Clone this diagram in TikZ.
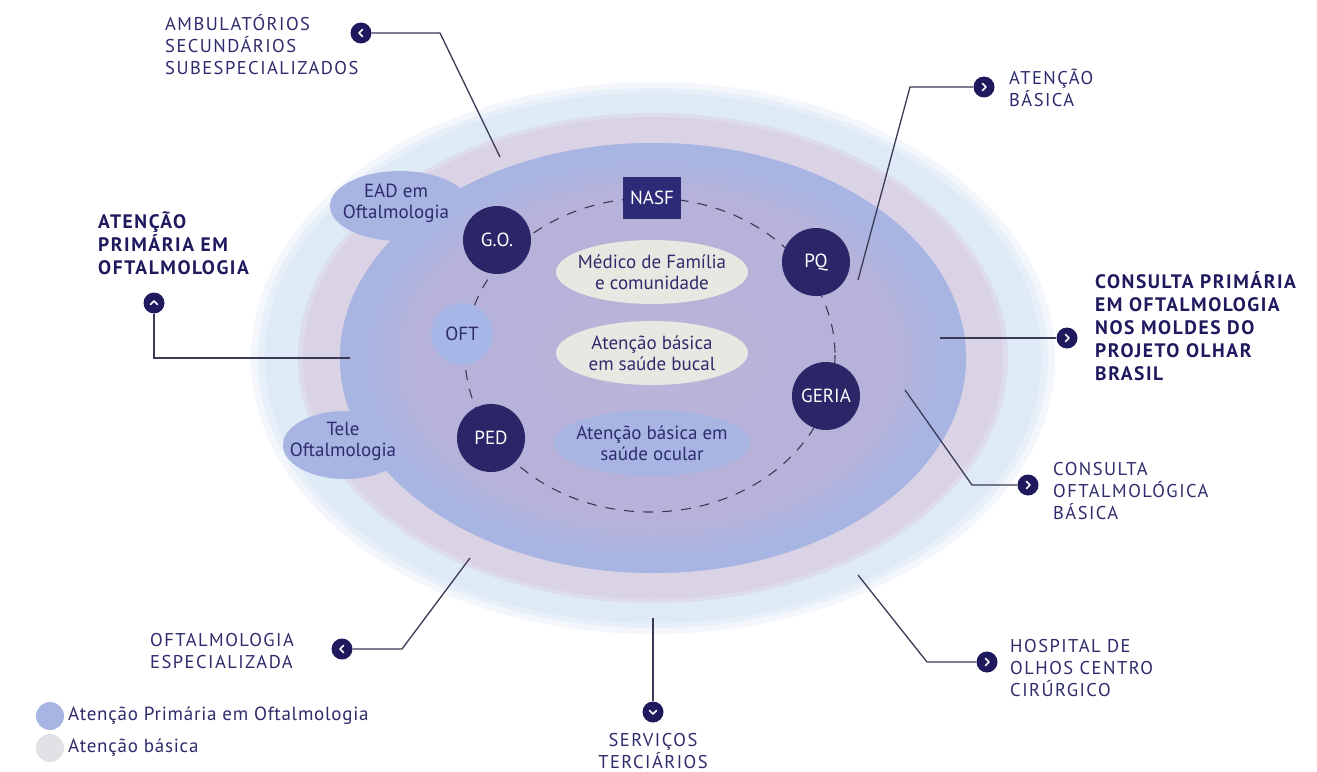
\documentclass[tikz,border=0pt]{standalone}
\usepackage{fontspec}
\setmainfont{PT Sans}
\newfontfamily\lbl[LetterSpace=8]{PT Sans}
\newfontfamily\legf[LetterSpace=4]{PT Sans}
\usetikzlibrary{shapes.geometric}
\definecolor{navy}{HTML}{1F1A5E}
\definecolor{dcirc}{HTML}{2A2668}
\definecolor{txt}{HTML}{2E2C6C}
\definecolor{linec}{HTML}{3A3A55}
\definecolor{outerblue}{HTML}{DFEAF7}
\definecolor{lav}{HTML}{DAD3E6}
\definecolor{ring}{HTML}{A8B5E3}
\definecolor{inner}{HTML}{B7B2DA}
\definecolor{innerc}{HTML}{BDB4D8}
\definecolor{cream}{HTML}{E9E7E1}
\definecolor{nasfc}{HTML}{2D2A78}
\definecolor{oftc}{HTML}{A6B6E6}
\definecolor{leggray}{HTML}{E2E1E5}
\pgfdeclareradialshading{innershade}{\pgfpoint{0bp}{0bp}}{color(0bp)=(innerc); color(12bp)=(inner); color(19bp)=(inner); color(23.5bp)=(ring); color(50bp)=(ring)}
\begin{document}
\begin{tikzpicture}[x=1pt,y=-1pt,
  lbltext/.style={text=txt, font=\lbl\fontsize{18.5}{22}\selectfont, align=left, inner sep=0pt, anchor=west},
  boldtext/.style={text=navy, font=\lbl\bfseries\fontsize{19.5}{23}\selectfont, align=left, inner sep=0pt, anchor=west},
  bullet/.style={circle, fill=navy, minimum size=21pt, inner sep=0pt},
  conn/.style={draw=linec, line width=1.3pt},
  chev/.style={draw=white, line width=1.7pt, line cap=round, line join=round},
  darkcirc/.style={circle, fill=dcirc, minimum size=68pt, inner sep=0pt, text=white, font=\fontsize{19}{19}\selectfont},
  intext/.style={text=txt, font=\fontsize{19}{21}\selectfont, align=center, inner sep=0pt},
  legdot/.style={circle, minimum size=28pt, inner sep=0pt},
  legtext/.style={text=txt, font=\legf\fontsize{19}{20}\selectfont, inner sep=0pt, anchor=west},
  chevright/.pic={\draw[chev] (-1.5,-3.5) -- (2,0) -- (-1.5,3.5);},
  chevleft/.pic={\draw[chev] (1.5,-3.5) -- (-2,0) -- (1.5,3.5);},
  chevup/.pic={\draw[chev] (-3.5,1.5) -- (0,-2) -- (3.5,1.5);},
  chevdown/.pic={\draw[chev] (-3.5,-1.5) -- (0,2) -- (3.5,-1.5);}
]
\useasboundingbox (0,0) rectangle (1317,771);
\fill[white] (0,0) rectangle (1317,771);
% layered ellipses
\fill[outerblue, opacity=0.35] (653,358) ellipse [x radius=402, y radius=276];
\fill[outerblue, opacity=0.6] (653,358) ellipse [x radius=395, y radius=270];
\fill[outerblue] (653,358) ellipse [x radius=388, y radius=265];
\fill[lav, opacity=0.6] (653,358) ellipse [x radius=355, y radius=245];
\fill[lav] (653,358) ellipse [x radius=350, y radius=241];
\fill[ring] (653,358) ellipse [x radius=313, y radius=215];
\fill[ring] (400,206) ellipse [x radius=70, y radius=35];
\fill[ring] (345,445) ellipse [x radius=62, y radius=34];
\shade[shading=innershade] (653,358) ellipse [x radius=313, y radius=215];
% inner ellipses
\fill[cream] (652,272) ellipse [x radius=96, y radius=32];
\fill[cream] (652,353) ellipse [x radius=96, y radius=32];
\fill[ring] (652,443) ellipse [x radius=98, y radius=33];
% dashed ring
\draw[linec, line width=1.1pt, dash pattern=on 10pt off 9pt] (650,355) ellipse [x radius=185, y radius=157];
\fill[oftc] (462,334) circle [radius=31];
% nodes
\node[darkcirc] (go) at (497,240) {G.O.};
\node[darkcirc] (pq) at (816,262) {PQ};
\node[darkcirc] (geria) at (826,396) {GERIA};
\node[darkcirc] (ped) at (491,438) {PED};
\node[fill=nasfc, minimum width=58pt, minimum height=42pt, inner sep=0pt, text=white, font=\fontsize{19}{19}\selectfont] (nasf) at (652,198) {NASF};
\node[intext] (oft) at (462,334) {OFT};
\node[intext] (med) at (652,272) {Médico de Família\\e comunidade};
\node[intext] (buc) at (652,353) {Atenção básica\\em saúde bucal};
\node[intext] (ocu) at (652,443) {Atenção básica em\\saúde ocular};
\node[intext] (ead) at (396,203) {EAD em\\Oftalmologia};
\node[intext] (tele) at (343,441) {Tele\\Oftalmologia};
% outer labels
\node[lbltext] (amb) at (165,45) {AMBULATÓRIOS\\SECUNDÁRIOS\\SUBESPECIALIZADOS};
\node[lbltext] (atb) at (1009,88) {ATENÇÃO\\BÁSICA};
\node[boldtext] (cpo) at (1095,326) {CONSULTA PRIMÁRIA\\EM OFTALMOLOGIA\\NOS MOLDES DO\\PROJETO OLHAR\\BRASIL};
\node[boldtext] (apo) at (98,243) {ATENÇÃO\\PRIMÁRIA EM\\OFTALMOLOGIA};
\node[lbltext] (cob) at (1053,491) {CONSULTA\\OFTALMOLÓGICA\\BÁSICA};
\node[lbltext] (hosp) at (1010,668) {HOSPITAL DE\\OLHOS CENTRO\\CIRÚRGICO};
\node[lbltext, anchor=center, align=center] (serv) at (653,751) {SERVIÇOS\\TERCIÁRIOS};
\node[lbltext] (ofe) at (150,651) {OFTALMOLOGIA\\ESPECIALIZADA};
% bullets
\node[bullet] (b1) at (361,33) {};
\node[bullet] (b2) at (984,87) {};
\node[bullet] (b3) at (1067,338) {};
\node[bullet] (b4) at (154,303) {};
\node[bullet] (b5) at (1028,485) {};
\node[bullet] (b6) at (987,662) {};
\node[bullet] (b7) at (653,712) {};
\node[bullet] (b8) at (342,649) {};
\pic at (b1) {chevleft};
\pic at (b2) {chevright};
\pic at (b3) {chevright};
\pic at (b4) {chevup};
\pic at (b5) {chevright};
\pic at (b6) {chevright};
\pic at (b7) {chevdown};
\pic at (b8) {chevleft};
% connector ends
\coordinate (e1) at (500,157);
\coordinate (e2) at (858,280);
\coordinate (e3) at (940,338);
\coordinate (e4) at (350,358);
\coordinate (e5) at (905,390);
\coordinate (e6) at (858,575);
\coordinate (e7) at (653,618);
\coordinate (e8) at (470,558);
\draw[conn] (b1.east) -- (440,33) -- (e1);
\draw[conn] (b2.west) -- (910,87) -- (e2);
\draw[conn] (b3.west) -- (e3);
\draw[conn] (b4.south) -- (154,358) -- (e4);
\draw[conn] (b5.west) -- (972,485) -- (e5);
\draw[conn] (b6.west) -- (927,662) -- (e6);
\draw[conn] (e7) -- (b7.north);
\draw[conn] (b8.east) -- (402,649) -- (e8);
% legend
\node[legdot, fill=ring] (l1) at (50,716) {};
\node[legdot, fill=leggray] (l2) at (50,748) {};
\node[legtext] (l1t) at (68,716) {Atenção Primária em Oftalmologia};
\node[legtext] (l2t) at (68,748) {Atenção básica};
\end{tikzpicture}
\end{document}
